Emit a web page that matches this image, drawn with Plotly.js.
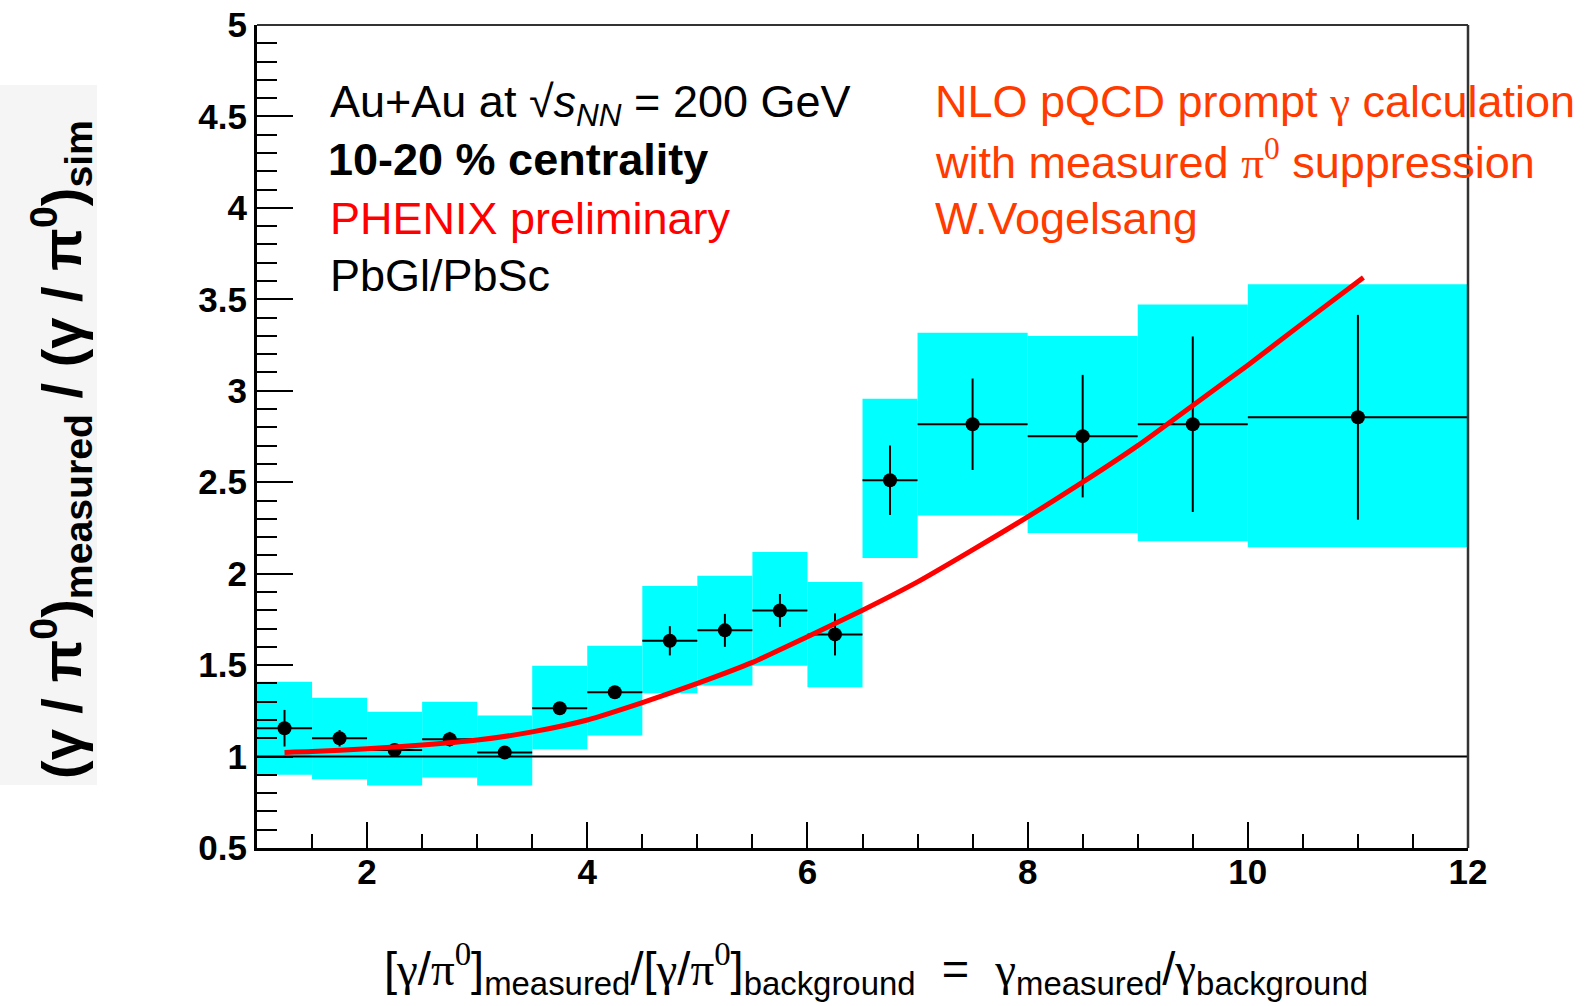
<!DOCTYPE html>
<html>
<head>
<meta charset="utf-8">
<script src="https://cdn.plot.ly/plotly-3.0.1.min.js"></script>
<style>
  html, body { margin: 0; padding: 0; background: #ffffff; }
  #chart { width: 1585px; height: 1006px; }
</style>
</head>
<body>
<div id="chart"></div>
<script>
// Double ratio (gamma/pi0)_measured / (gamma/pi0)_sim, Au+Au 10-20 % centrality
const binCenter    = [1.25, 1.75, 2.25, 2.75, 3.25, 3.75, 4.25, 4.75, 5.25, 5.75, 6.25, 6.75, 7.5, 8.5, 9.5, 11.0];
const binHalfWidth = [0.25, 0.25, 0.25, 0.25, 0.25, 0.25, 0.25, 0.25, 0.25, 0.25, 0.25, 0.25, 0.5, 0.5, 0.5, 1.0];
const ratio        = [1.155, 1.100, 1.036, 1.095, 1.022, 1.264, 1.352, 1.633, 1.690, 1.799, 1.668, 2.511, 2.817, 2.752, 2.817, 2.855];
const statErr      = [0.100, 0.045, 0.036, 0.040, 0.035, 0.035, 0.035, 0.080, 0.090, 0.090, 0.115, 0.190, 0.250, 0.335, 0.480, 0.560];
const sysLow       = [0.900, 0.876, 0.842, 0.885, 0.842, 1.040, 1.115, 1.346, 1.388, 1.497, 1.379, 2.085, 2.318, 2.223, 2.177, 2.144];
const sysHigh      = [1.409, 1.322, 1.245, 1.300, 1.224, 1.497, 1.606, 1.933, 1.988, 2.119, 1.955, 2.956, 3.317, 3.299, 3.472, 3.582];

// NLO pQCD prompt photon expectation (W. Vogelsang)
const theoryX = [1.25, 1.5, 2.0, 2.5, 3.0, 3.5, 4.0, 4.5, 5.0, 5.5, 6.0, 6.5, 7.0, 7.5, 8.0, 8.5, 9.0, 9.5, 10.0, 10.5, 11.05];
const theoryY = [1.022, 1.027, 1.043, 1.063, 1.090, 1.135, 1.200, 1.295, 1.400, 1.515, 1.655, 1.800, 1.955, 2.130, 2.310, 2.500, 2.700, 2.920, 3.140, 3.370, 3.620];

// Unity reference
const unityX = [1, 12];
const unityY = [1, 1];

// Axis ticks
const xTickVals = [2, 4, 6, 8, 10, 12];
const xTickText = ['2', '4', '6', '8', '10', '12'];
const yTickVals = [0.5, 1, 1.5, 2, 2.5, 3, 3.5, 4, 4.5, 5];
const yTickText = ['0.5', '1', '1.5', '2', '2.5', '3', '3.5', '4', '4.5', '5'];

// Frame geometry (pixels)
const W = 1585, H = 1006;
const ML = 257, MR = 117, MT = 25, MB = 158;
const PW = W - ML - MR, PH = H - MT - MB;
const px = x => (x - ML) / PW;
const py = y => (H - MB - y) / PH;

const SANS = 'Liberation Sans, Arial, Helvetica, sans-serif';
const SERIF = "font-family:'Liberation Serif','Times New Roman',serif";
const ORANGE = '#ff3b00';
const sym = s => '<span style="' + SERIF + '">' + s + '</span>';

const traces = [
  {
    type: 'bar',
    x: binCenter,
    width: binHalfWidth.map(h => 2 * h),
    base: sysLow,
    y: sysHigh.map((h, i) => h - sysLow[i]),
    marker: { color: '#00ffff', line: { width: 0 } },
    hoverinfo: 'skip',
    showlegend: false
  },
  {
    type: 'scatter',
    mode: 'lines',
    x: unityX,
    y: unityY,
    line: { color: '#000000', width: 2 },
    hoverinfo: 'skip',
    showlegend: false
  },
  {
    type: 'scatter',
    mode: 'markers',
    x: binCenter,
    y: ratio,
    marker: { color: '#000000', size: 14, symbol: 'circle' },
    error_x: { type: 'data', array: binHalfWidth, visible: true, color: '#000000', thickness: 2, width: 0 },
    error_y: { type: 'data', array: statErr, visible: true, color: '#000000', thickness: 2, width: 0 },
    showlegend: false
  },
  {
    type: 'scatter',
    mode: 'lines',
    x: theoryX,
    y: theoryY,
    line: { color: '#ff0000', width: 5, shape: 'spline', smoothing: 0.6 },
    showlegend: false
  }
];

const tickFont = { family: SANS, size: 35, color: '#000000', weight: 'bold' };

function note(text, xPix, yPix, opts) {
  return Object.assign({
    text: text,
    xref: 'paper', yref: 'paper',
    x: px(xPix), y: py(yPix),
    xanchor: 'left', yanchor: 'middle',
    showarrow: false,
    font: { family: SANS, size: 45, color: '#000000' }
  }, opts || {});
}

const annotations = [
  note('Au+Au at √<i>s</i><sub><i>NN</i></sub> = 200 GeV', 328, 104),
  note('10-20 % centrality', 326, 160, { font: { family: SANS, size: 45, color: '#000000', weight: 'bold' } }),
  note('PHENIX preliminary', 328, 218, { font: { family: SANS, size: 45, color: '#ff0000' } }),
  note('PbGl/PbSc', 328, 275),
  note('NLO pQCD prompt ' + sym('γ') + ' calculation', 933, 102, { font: { family: SANS, size: 45, color: ORANGE } }),
  note('with measured ' + sym('π<sup>0</sup>') + ' suppression', 933, 160, { font: { family: SANS, size: 45, color: ORANGE } }),
  note('W.Vogelsang', 933, 218, { font: { family: SANS, size: 45, color: ORANGE } }),
  // x-axis title
  note('[' + sym('γ') + '/' + sym('π<sup>0</sup>') + ']<sub>measured</sub>/' +
       '[' + sym('γ') + '/' + sym('π<sup>0</sup>') + ']<sub>background</sub>' +
       '  =  ' + sym('γ') + '<sub>measured</sub>/' + sym('γ') + '<sub>background</sub>',
       876, 1004, { xanchor: 'center', yanchor: 'bottom', font: { family: SANS, size: 47, color: '#000000' } }),
  // y-axis title
  note('(γ / π<sup>0</sup>)<sub>measured</sub> / (γ / π<sup>0</sup>)<sub>sim</sub>', 61, 450,
       { xanchor: 'center', textangle: -90, font: { family: SANS, size: 56, color: '#000000', weight: 'bold' } })
];

const layout = {
  width: W,
  height: H,
  margin: { l: ML, r: MR, t: MT, b: MB, pad: 0 },
  paper_bgcolor: '#ffffff',
  plot_bgcolor: '#ffffff',
  showlegend: false,
  xaxis: {
    range: [1, 12],
    tickmode: 'array',
    tickvals: xTickVals,
    ticktext: xTickText,
    ticks: 'inside',
    ticklen: 26,
    tickwidth: 2,
    tickcolor: '#000000',
    ticklabelstandoff: -9,
    showline: true,
    linewidth: 3,
    linecolor: '#000000',
    showgrid: false,
    zeroline: false,
    tickfont: tickFont,
    minor: { tickmode: 'linear', tick0: 1, dtick: 0.5, ticks: 'inside', ticklen: 14, tickwidth: 2, tickcolor: '#000000', showgrid: false },
    fixedrange: true
  },
  yaxis: {
    range: [0.5, 5],
    tickmode: 'array',
    tickvals: yTickVals,
    ticktext: yTickText,
    ticks: 'inside',
    ticklen: 36,
    tickwidth: 2,
    tickcolor: '#000000',
    showline: true,
    linewidth: 3,
    linecolor: '#000000',
    showgrid: false,
    zeroline: false,
    tickfont: tickFont,
    minor: { tickmode: 'linear', tick0: 0.5, dtick: 0.1, ticks: 'inside', ticklen: 20, tickwidth: 2, tickcolor: '#000000', showgrid: false },
    fixedrange: true
  },
  shapes: [
    // light backing behind the vertical title
    { type: 'rect', xref: 'paper', yref: 'paper', x0: px(0), x1: px(97), y0: py(785), y1: py(85),
      fillcolor: '#f5f5f5', line: { width: 0 }, layer: 'below' },
    // upper and right frame edges
    { type: 'line', xref: 'paper', yref: 'paper', x0: 0, x1: 1, y0: 1, y1: 1,
      line: { color: '#333333', width: 2 }, layer: 'above' },
    { type: 'line', xref: 'paper', yref: 'paper', x0: 1, x1: 1, y0: 0, y1: 1,
      line: { color: '#333333', width: 2.5 }, layer: 'above' }
  ],
  annotations: annotations
};

Plotly.newPlot('chart', traces, layout, { displayModeBar: false, staticPlot: true });
</script>
</body>
</html>
